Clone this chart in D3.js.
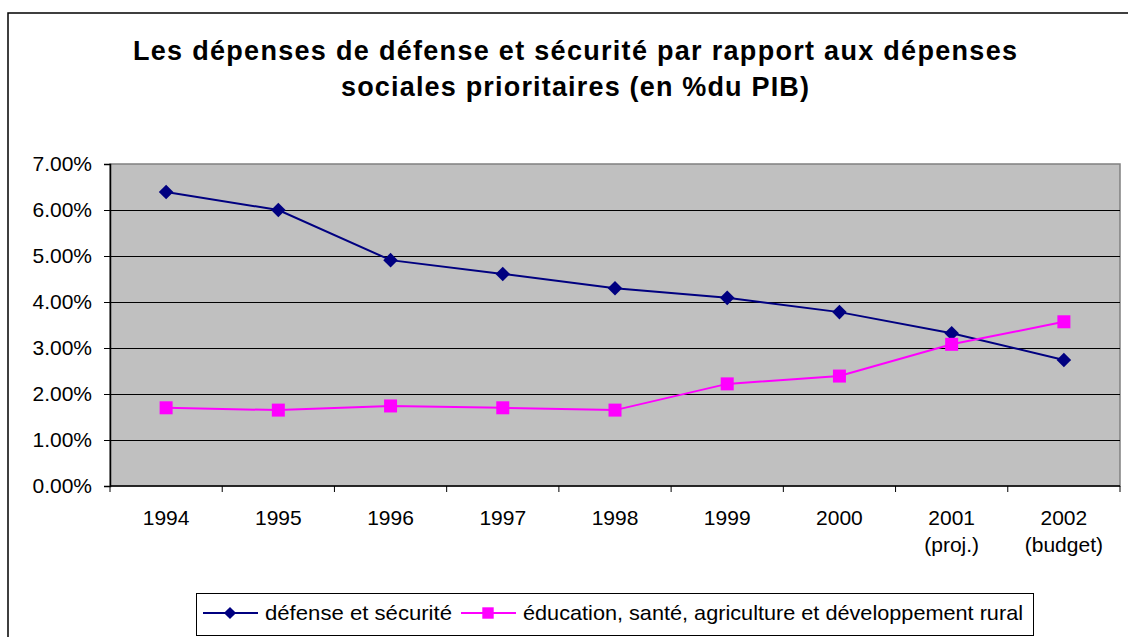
<!DOCTYPE html>
<html>
<head>
<meta charset="utf-8">
<script src="https://cdn.jsdelivr.net/npm/d3@7"></script>
<style>
  body { margin: 0; background: #fff; }
  svg { display: block; font-family: "Liberation Sans", Arial, sans-serif; }
</style>
</head>
<body>
<svg id="chart" width="1128" height="637"></svg>
<script>
// data (share of GDP)
var years = ["1994", "1995", "1996", "1997", "1998", "1999", "2000", "2001", "2002"];
var yearNotes = ["", "", "", "", "", "", "", "(proj.)", "(budget)"];
var defense = [0.0639, 0.0600, 0.0491, 0.0461, 0.0430, 0.0409, 0.0378, 0.0332, 0.0274];
var social = [0.0170, 0.0165, 0.0174, 0.0170, 0.0165, 0.0222, 0.0239, 0.0308, 0.0357];
var yTicks = [0, 0.01, 0.02, 0.03, 0.04, 0.05, 0.06, 0.07];
var titleLines = ["Les dépenses de défense et sécurité par rapport aux dépenses",
                  "sociales prioritaires (en %du PIB)"];
var seriesNames = ["défense et sécurité", "éducation, santé, agriculture et développement rural"];

var svg = d3.select("#chart");

// outer chart border (runs off the right and bottom edge)
svg.append("rect")
    .attr("x", 8).attr("y", 13)
    .attr("width", 1140).attr("height", 640)
    .attr("fill", "#fff")
    .attr("stroke", "#000")
    .attr("stroke-width", 1.5);

// title
svg.selectAll(".title")
    .data(titleLines)
    .enter().append("text")
    .attr("class", "title")
    .attr("x", 575)
    .attr("y", function (d, i) { return 60 + i * 36; })
    .attr("text-anchor", "middle")
    .attr("font-size", 27)
    .attr("font-weight", "bold")
    .attr("textLength", function (d, i) { return i == 0 ? 884 : 468; })
    .attr("lengthAdjust", "spacing")
    .text(function (d) { return d; });

var plotLeft = 110, plotRight = 1120, plotTop = 164, plotBottom = 486;

var x = d3.scaleBand().domain(years).range([plotLeft, plotRight]).padding(0);
var y = d3.scaleLinear().domain([0, 0.07]).range([plotBottom, plotTop]);

// plot area
svg.append("rect")
    .attr("x", plotLeft).attr("y", plotTop)
    .attr("width", plotRight - plotLeft).attr("height", plotBottom - plotTop)
    .attr("fill", "#c0c0c0")
    .attr("stroke", "#808080")
    .attr("stroke-width", 1.5);

// gridlines
svg.selectAll(".grid")
    .data(yTicks.slice(1, -1))
    .enter().append("line")
    .attr("class", "grid")
    .attr("x1", plotLeft).attr("x2", plotRight)
    .attr("y1", function (d) { return Math.round(y(d)) + 0.5; })
    .attr("y2", function (d) { return Math.round(y(d)) + 0.5; })
    .attr("stroke", "#000")
    .attr("stroke-width", 1);

// y axis
var yAxis = svg.append("g")
    .attr("transform", "translate(" + plotLeft + ",0)")
    .call(d3.axisLeft(y).tickValues(yTicks).tickFormat(d3.format(".2%")).tickSize(6).tickPadding(12));
yAxis.select(".domain").attr("stroke", "#000").attr("stroke-width", 1.5);
yAxis.selectAll("text").attr("font-size", 21).attr("fill", "#000").attr("font-family", "Liberation Sans, Arial, sans-serif");

// x axis: ticks at category boundaries
var xAxis = svg.append("g");
xAxis.append("line")
    .attr("x1", plotLeft).attr("x2", plotRight)
    .attr("y1", plotBottom).attr("y2", plotBottom)
    .attr("stroke", "#000").attr("stroke-width", 1.5);
xAxis.selectAll(".xtick")
    .data(years.concat(["end"]))
    .enter().append("line")
    .attr("class", "xtick")
    .attr("x1", function (d) { return d == "end" ? plotRight : x(d); })
    .attr("x2", function (d) { return d == "end" ? plotRight : x(d); })
    .attr("y1", plotBottom).attr("y2", plotBottom + 6)
    .attr("stroke", "#000").attr("stroke-width", 1);

var xLabels = xAxis.selectAll(".xlabel")
    .data(years)
    .enter().append("text")
    .attr("class", "xlabel")
    .attr("text-anchor", "middle")
    .attr("font-size", 21)
    .attr("x", function (d) { return x(d) + x.bandwidth() / 2; })
    .attr("y", 525);
xLabels.append("tspan")
    .text(function (d) { return d; });
xLabels.append("tspan")
    .attr("x", function (d) { return x(d) + x.bandwidth() / 2; })
    .attr("dy", 27)
    .text(function (d, i) { return yearNotes[i]; });

// lines and markers
var line = d3.line()
    .x(function (d, i) { return x(years[i]) + x.bandwidth() / 2; })
    .y(function (d) { return y(d); });

svg.append("path")
    .datum(defense)
    .attr("d", line)
    .attr("fill", "none")
    .attr("stroke", "#000080")
    .attr("stroke-width", 2);

svg.append("path")
    .datum(social)
    .attr("d", line)
    .attr("fill", "none")
    .attr("stroke", "#ff00ff")
    .attr("stroke-width", 2);

var diamond = d3.symbol().type(d3.symbolDiamond2).size(135);
var square = d3.symbol().type(d3.symbolSquare).size(169);

svg.selectAll(".def")
    .data(defense)
    .enter().append("path")
    .attr("class", "def")
    .attr("d", diamond)
    .attr("transform", function (d, i) { return "translate(" + (x(years[i]) + x.bandwidth() / 2) + "," + y(d) + ")"; })
    .attr("fill", "#000080");

svg.selectAll(".soc")
    .data(social)
    .enter().append("path")
    .attr("class", "soc")
    .attr("d", square)
    .attr("transform", function (d, i) { return "translate(" + (x(years[i]) + x.bandwidth() / 2) + "," + y(d) + ")"; })
    .attr("fill", "#ff00ff");

// legend
var legend = svg.append("g");
legend.append("rect")
    .attr("x", 196.5).attr("y", 593.5)
    .attr("width", 837).attr("height", 42)
    .attr("fill", "#fff")
    .attr("stroke", "#000")
    .attr("stroke-width", 1);

var legendItems = [
    { lx: 203, tx: 265, tw: 187, color: "#000080", sym: d3.symbol().type(d3.symbolDiamond2).size(95) },
    { lx: 461, tx: 523, tw: 500, color: "#ff00ff", sym: d3.symbol().type(d3.symbolSquare).size(130) }
];
legendItems.forEach(function (item, i) {
    legend.append("line")
        .attr("x1", item.lx).attr("x2", item.lx + 55)
        .attr("y1", 613).attr("y2", 613)
        .attr("stroke", item.color).attr("stroke-width", 2);
    legend.append("path")
        .attr("d", item.sym)
        .attr("transform", "translate(" + (item.lx + 27) + ",613)")
        .attr("fill", item.color);
    legend.append("text")
        .attr("x", item.tx).attr("y", 620)
        .attr("font-size", 21)
        .attr("textLength", item.tw)
        .attr("lengthAdjust", "spacingAndGlyphs")
        .text(seriesNames[i]);
});
</script>
</body>
</html>
